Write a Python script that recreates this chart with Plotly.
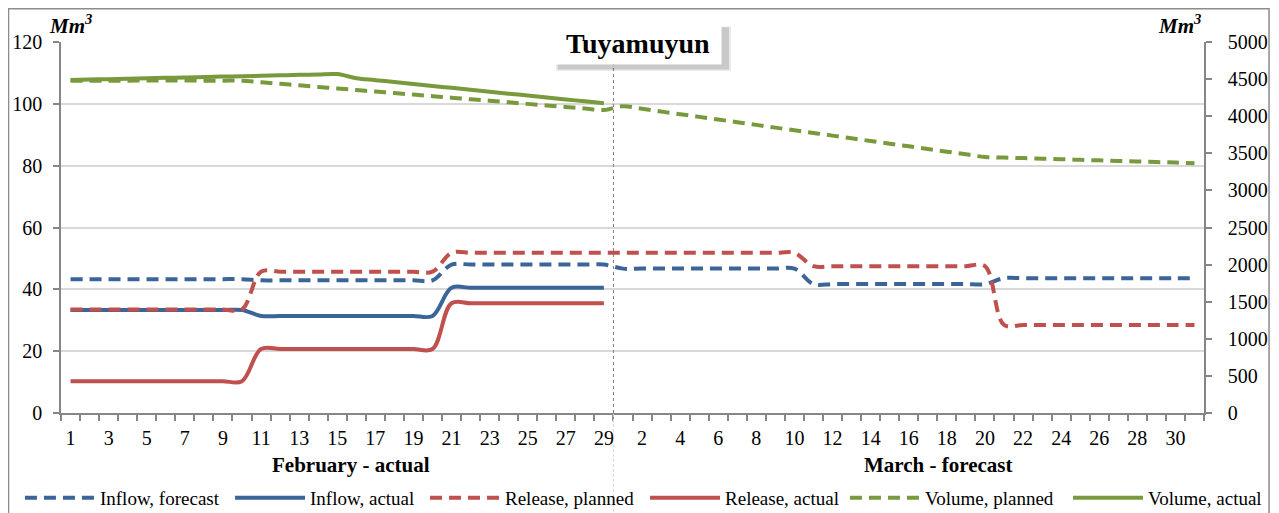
import plotly.graph_objects as go

# ---------------- data ----------------
feb_days = [str(d) for d in range(1, 30)]
mar_days = [str(d) for d in range(1, 32)]
day_labels = feb_days + mar_days
xpos = list(range(len(day_labels)))

inflow_forecast = [
    43.3, 43.3, 43.3, 43.3, 43.3, 43.3, 43.3, 43.3, 43.3, 43.3,
    42.9, 42.9, 42.9, 42.9, 42.9, 42.9, 42.9, 42.9, 42.9, 42.9,
    48.0, 48.0, 48.0, 48.0, 48.0, 48.0, 48.0, 48.0, 48.0,
    46.7, 46.7, 46.7, 46.7, 46.7, 46.7, 46.7, 46.7, 46.7, 46.7,
    41.7, 41.7, 41.7, 41.7, 41.7, 41.7, 41.7, 41.7, 41.7, 41.7,
    43.6, 43.6, 43.6, 43.6, 43.6, 43.6, 43.6, 43.6, 43.6, 43.6, 43.6,
]
inflow_actual = [
    33.3, 33.3, 33.3, 33.3, 33.3, 33.3, 33.3, 33.3, 33.3, 33.3,
    31.4, 31.4, 31.4, 31.4, 31.4, 31.4, 31.4, 31.4, 31.4, 31.4,
    40.5, 40.5, 40.5, 40.5, 40.5, 40.5, 40.5, 40.5, 40.5,
]
release_planned = [
    33.5, 33.5, 33.5, 33.5, 33.5, 33.5, 33.5, 33.5, 33.5, 33.5,
    45.7, 45.7, 45.7, 45.7, 45.7, 45.7, 45.7, 45.7, 45.7, 45.7,
    51.8, 51.8, 51.8, 51.8, 51.8, 51.8, 51.8, 51.8, 51.8,
    51.8, 51.8, 51.8, 51.8, 51.8, 51.8, 51.8, 51.8, 51.8, 51.8,
    47.5, 47.5, 47.5, 47.5, 47.5, 47.5, 47.5, 47.5, 47.5, 47.5,
    28.5, 28.5, 28.5, 28.5, 28.5, 28.5, 28.5, 28.5, 28.5, 28.5, 28.5,
]
release_actual = [
    10.3, 10.3, 10.3, 10.3, 10.3, 10.3, 10.3, 10.3, 10.3, 10.3,
    20.7, 20.7, 20.7, 20.7, 20.7, 20.7, 20.7, 20.7, 20.7, 20.7,
    35.5, 35.5, 35.5, 35.5, 35.5, 35.5, 35.5, 35.5, 35.5,
]
volume_planned = [
    4478, 4478, 4479, 4479, 4480, 4480, 4480, 4479, 4479, 4478,
    4457, 4436, 4416, 4395, 4374, 4353, 4332, 4312, 4291, 4270,
    4249, 4228, 4208, 4187, 4166, 4145, 4124, 4104, 4083,
    4135, 4099, 4063, 4027, 3991, 3955, 3919, 3883, 3846, 3810,
    3774, 3738, 3702, 3666, 3630, 3594, 3558, 3522, 3486, 3450,
    3442, 3435, 3427, 3420, 3412, 3405, 3397, 3390, 3382, 3375, 3367,
]
volume_actual = [
    4488, 4494, 4499, 4505, 4511, 4517, 4522, 4528, 4534, 4539,
    4545, 4551, 4557, 4562, 4568, 4512, 4486, 4460, 4434, 4408,
    4382, 4356, 4330, 4304, 4278, 4252, 4226, 4200, 4174,
]

BLUE = "#3B6598"
RED = "#C0504D"
GREEN = "#789A3C"
DASH = "12px,7px"
FONT = "Liberation Serif, Times New Roman, serif"

fig = go.Figure()

series = [
    ("Inflow, forecast", inflow_forecast, BLUE, DASH, "y", "legend"),
    ("Inflow, actual", inflow_actual, BLUE, "solid", "y", "legend2"),
    ("Release, planned", release_planned, RED, DASH, "y", "legend3"),
    ("Release, actual", release_actual, RED, "solid", "y", "legend4"),
    ("Volume, planned", volume_planned, GREEN, DASH, "y2", "legend5"),
    ("Volume, actual", volume_actual, GREEN, "solid", "y2", "legend6"),
]
for name, y, color, dash, axis, lg in series:
    fig.add_trace(go.Scatter(
        x=xpos[:len(y)], y=y, name=name, mode="lines",
        line=dict(color=color, width=4, dash=dash, shape="spline", smoothing=1.0),
        yaxis=axis, legend=lg, hoverinfo="skip",
    ))

tickvals = xpos[::2]
ticktext = day_labels[::2]
boundaries = [i - 0.5 for i in range(len(day_labels) + 1)]

# page body has an 8px margin: the figure is sized/offset to compensate
W, H = 1271, 505
legend_x = [0.0094, 0.1747, 0.3281, 0.5012, 0.6585, 0.8340]
legends = {}
for i, lx in enumerate(legend_x):
    key = "legend" if i == 0 else f"legend{i + 1}"
    legends[key] = dict(
        orientation="h", xref="container", x=lx, xanchor="left",
        yref="container", y=0.0297, yanchor="middle",
        font=dict(size=19, family=FONT), itemwidth=70,
        bgcolor="rgba(0,0,0,0)", borderwidth=0,
    )

fig.update_layout(
    width=W, height=H,
    margin=dict(l=53, r=75, t=34, b=100, pad=0, autoexpand=False),
    paper_bgcolor="white", plot_bgcolor="white",
    font=dict(family=FONT, size=20, color="black"),
    showlegend=True,
    xaxis=dict(
        range=[-0.5, len(day_labels) - 0.5],
        tickmode="array", tickvals=tickvals, ticktext=ticktext,
        ticks="", showgrid=False, zeroline=False, tickangle=0,
        showline=True, linecolor="#868686", linewidth=1.5,
        ticklabelstandoff=6,
        minor=dict(tickmode="array", tickvals=boundaries, ticks="outside",
                   ticklen=6, tickcolor="#868686", tickwidth=1.5, showgrid=False),
    ),
    yaxis=dict(
        range=[0, 120], dtick=20, tick0=0,
        showgrid=True, gridcolor="#D9D9D9", gridwidth=1.5,
        zeroline=False, showline=True, linecolor="#868686", linewidth=1.5,
        ticks="outside", ticklen=6, tickcolor="#868686", tickwidth=1.5,
        ticklabelstandoff=7,
    ),
    yaxis2=dict(
        range=[0, 5000], dtick=500, tick0=0, overlaying="y", side="right",
        showgrid=False, zeroline=False, showline=True, linecolor="#868686",
        linewidth=1.5, ticks="outside", ticklen=6, tickcolor="#868686",
        tickwidth=1.5, ticklabelstandoff=12,
    ),
    **legends,
)

# separator between February (actual) and March (forecast)
fig.add_shape(type="line", xref="x", yref="paper", x0=28.5, x1=28.5, y0=0, y1=1,
              line=dict(color="#808080", width=1, dash="3px,3px"))
fig.add_shape(type="line", xref="x", yref="paper", x0=28.5, x1=28.5, y0=-0.28, y1=0,
              line=dict(color="#D8D8D8", width=1, dash="3px,2px"))
# outer chart border
fig.add_shape(type="rect", xref="paper", yref="paper",
              x0=-0.0459, x1=1.0569, y0=-0.30, y1=1.0896,
              line=dict(color="#8C8C8C", width=1.5), fillcolor="rgba(0,0,0,0)")

# title box drop shadow (decoration)
for x0, x1, y0, y1, col in [
    (0.4330, 0.5862, 0.9220, 1.0420, "rgba(0,0,0,0.08)"),
    (0.4345, 0.5845, 0.9260, 1.0400, "rgba(0,0,0,0.14)"),
]:
    fig.add_shape(type="rect", xref="paper", yref="paper", layer="above",
                  x0=x0, x1=x1, y0=y0, y1=y1, line=dict(width=0), fillcolor=col)

# title box
fig.add_annotation(xref="paper", yref="paper", x=0.5052, y=0.996,
                   xanchor="center", yanchor="middle",
                   text="<b>Tuyamuyun</b>", showarrow=False,
                   font=dict(size=28, family=FONT, color="black"),
                   bgcolor="white", width=162, height=38, borderpad=2)

# unit labels
for ux in (0.0079, 0.979):
    fig.add_annotation(xref="paper", yref="paper", x=ux, y=1.046,
                       text="<b><i>Mm<sup>3</sup></i></b>", showarrow=False,
                       font=dict(size=21, family=FONT), xanchor="center", yanchor="middle")

# period labels
fig.add_annotation(xref="paper", yref="paper", x=0.2537, y=-0.140,
                   text="<b>February - actual</b>", showarrow=False,
                   font=dict(size=21, family=FONT), xanchor="center", yanchor="middle")
fig.add_annotation(xref="paper", yref="paper", x=0.768, y=-0.140,
                   text="<b>March - forecast</b>", showarrow=False,
                   font=dict(size=21, family=FONT), xanchor="center", yanchor="middle")

fig.write_html("out.html")
